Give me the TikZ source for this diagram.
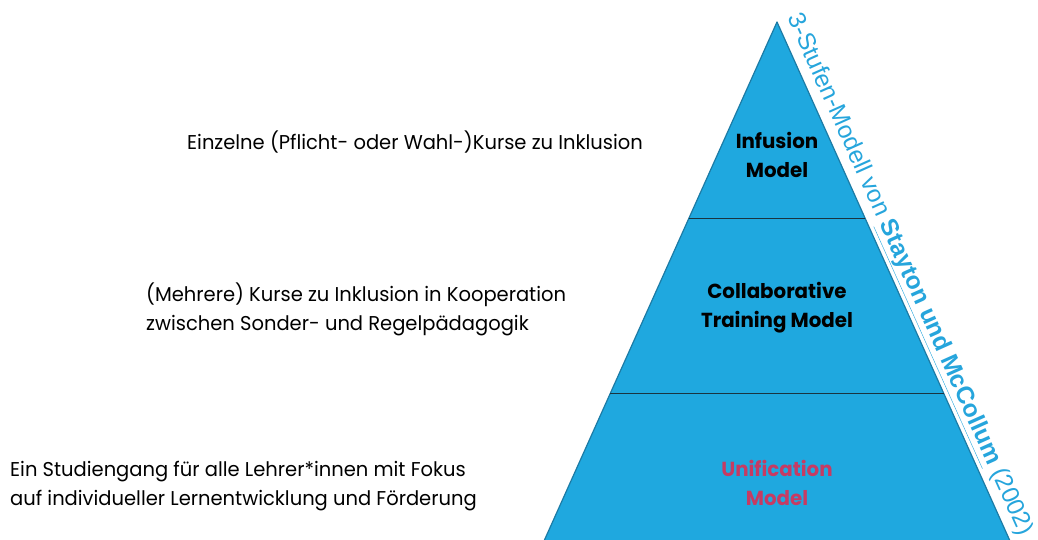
\documentclass[tikz,border=0pt]{standalone}
\usepackage{fontspec}
\setmainfont{Poppins}[FakeStretch=0.975]
\newfontfamily\arialfont{Liberation Sans}
\usetikzlibrary{calc}
\definecolor{pyrfill}{HTML}{1FA8DF}
\definecolor{pyredge}{HTML}{1C7BA5}
\definecolor{divline}{HTML}{1A3440}
\definecolor{captionblue}{HTML}{26A5DC}
\definecolor{unired}{HTML}{C63B63}
\begin{document}
\begin{tikzpicture}[x=1pt,y=-1pt,
  desc/.style={inner sep=0pt, align=left, font=\fontsize{20}{29}\selectfont, text=black},
  model/.style={inner sep=0pt, align=center, font=\fontsize{20.3}{29}\selectfont\bfseries},
  divider/.style={draw=divline, line width=1pt},
  caption/.style={inner sep=0pt, text=captionblue, font=\arialfont\fontsize{24.5}{28}\selectfont}]
\useasboundingbox (0,0) rectangle (1038,540);
\begin{scope}
\clip (0,0) rectangle (1038,540);
% pyramid corners
\coordinate (apex) at (777,22);
\coordinate (bl) at (542.2,545);
\coordinate (br) at (1011.8,545);
\filldraw[fill=pyrfill, draw=pyredge, line width=1.2pt, line join=round] (apex) -- (br) -- (bl) -- cycle;
% level borders
\coordinate (d1l) at ($(apex)!0.3748!(bl)$);
\coordinate (d1r) at ($(apex)!0.3748!(br)$);
\coordinate (d2l) at ($(apex)!0.7094!(bl)$);
\coordinate (d2r) at ($(apex)!0.7094!(br)$);
\draw[divider] (d1l) -- (d1r);
\draw[divider] (d2l) -- (d2r);
\end{scope}
% level names (anchored at the baseline of the last line)
\node[model, anchor=base] (infusion) at (777,178) {Infusion\\Model};
\node[model, anchor=base] (collab) at (777,327) {Collaborative\\Training Model};
\node[model, anchor=base, text=unired] (unification) at (777,505) {Unification\\Model};
% descriptions
\node[desc, anchor=base west] (einzelne) at (187,149.3) {Einzelne (Pflicht- oder Wahl-)Kurse zu Inklusion};
\node[desc, anchor=base west] (mehrere) at (146,330) {(Mehrere) Kurse zu Inklusion in Kooperation\\zwischen Sonder- und Regelpädagogik};
\node[desc, anchor=base west] (studiengang) at (10,505) {Ein Studiengang für alle Lehrer*innen mit Fokus\\auf individueller Lernentwicklung und Förderung};
% caption along the right side
\coordinate (capstart) at (787,17.5);
\coordinate (capend) at ($(br)+(10,-4.5)$);
\path (capstart) -- (capend) node[caption, pos=0, anchor=base west, sloped] (stufen)
  {3-Stufen-Modell von \underline{\bfseries Stayton und McCollum} (2002)};
\end{tikzpicture}
\end{document}
